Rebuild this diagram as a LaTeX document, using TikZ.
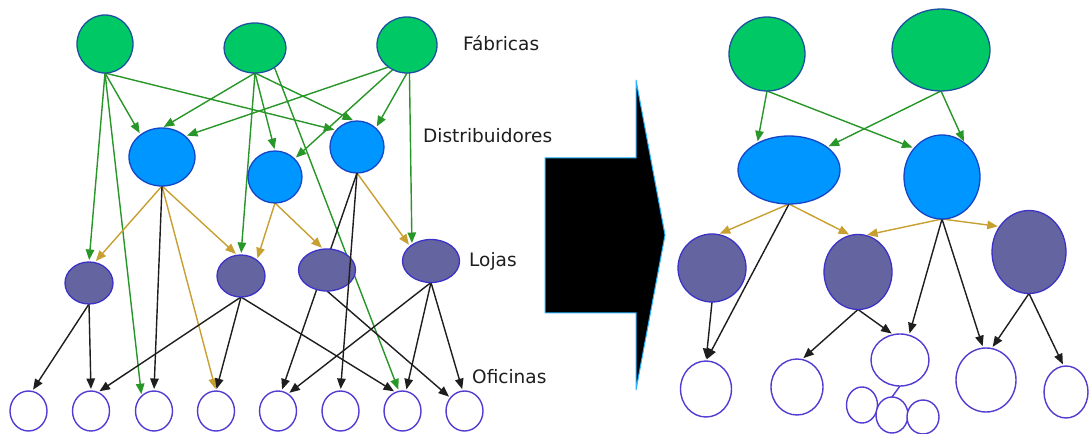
\documentclass[tikz,border=0pt]{standalone}
\usepackage{fontspec}
\setmainfont{DejaVu Sans}
\usetikzlibrary{shapes.geometric,arrows.meta}
\pgfdeclarelayer{background}
\pgfsetlayers{background,main}

\definecolor{facFill}{RGB}{0,200,100}
\definecolor{facEdge}{RGB}{30,80,160}
\definecolor{disFill}{RGB}{0,150,255}
\definecolor{disEdge}{RGB}{20,70,200}
\definecolor{lojFill}{RGB}{100,100,160}
\definecolor{lojEdge}{RGB}{60,50,200}
\definecolor{ofiEdge}{RGB}{80,60,210}
\definecolor{gLine}{RGB}{40,150,40}
\definecolor{yLine}{RGB}{200,160,50}
\definecolor{kLine}{RGB}{30,30,30}
\definecolor{arrBlue}{RGB}{40,180,255}
\definecolor{txt}{RGB}{30,30,30}

\tikzset{
  fab/.style={ellipse, draw=facEdge, fill=facFill, line width=1.3bp, inner sep=0pt, outer sep=0pt},
  dis/.style={ellipse, draw=disEdge, fill=disFill, line width=1.3bp, inner sep=0pt, outer sep=0pt},
  loj/.style={ellipse, draw=lojEdge, fill=lojFill, line width=1.3bp, inner sep=0pt, outer sep=0pt},
  ofi/.style={ellipse, draw=ofiEdge, fill=white, line width=1.4bp, inner sep=0pt, outer sep=0pt},
  conn/.style={line width=1.4bp, shorten >=2bp, -{Triangle[length=10.5bp,width=8.5bp]}},
  ge/.style={conn, draw=gLine, fill=gLine},
  ye/.style={conn, draw=yLine, fill=yLine},
  be/.style={conn, draw=kLine, fill=kLine},
  lbl/.style={anchor=base west, inner sep=0pt, text=txt, font=\fontsize{18.5bp}{20bp}\selectfont},
}

\begin{document}
\begin{tikzpicture}[x=1bp, y=-1bp]
\useasboundingbox (0,0) rectangle (1089,434);
\begin{pgfonlayer}{background}
  \fill[white] (0,0) rectangle (1089,434);
\end{pgfonlayer}

% ---------- current network ----------
\node[fab, minimum width=56bp, minimum height=58bp] (F1) at (105,44) {};
\node[fab, minimum width=62bp, minimum height=50bp] (F2) at (255,48) {};
\node[fab, minimum width=60bp, minimum height=56bp] (F3) at (407,45) {};

\node[dis, minimum width=66bp, minimum height=58bp] (D1) at (162,157) {};
\node[dis, minimum width=54bp, minimum height=52bp] (D2) at (275,177) {};
\node[dis, minimum width=54bp, minimum height=52bp] (D3) at (357,147) {};

\node[loj, minimum width=48bp, minimum height=42bp] (L1) at (89,283) {};
\node[loj, minimum width=48bp, minimum height=42bp] (L2) at (241,276) {};
\node[loj, minimum width=57bp, minimum height=42bp] (L3) at (327,270) {};
\node[loj, minimum width=57bp, minimum height=43bp] (L4) at (431,261) {};

\foreach \i/\x in {1/28.5,2/91,3/154,4/216,5/278,6/340.5,7/402.5,8/464.5}
  \node[ofi, minimum width=37bp, minimum height=40bp] (O\i) at (\x,411) {};

\node[lbl] (tF) at (463,51) {Fábricas};
\node[lbl] (tD) at (423,143) {Distribuidores};
\node[lbl] (tL) at (469,267) {Lojas};
\node[lbl] (tO) at (472,384) {Oficinas};

\begin{pgfonlayer}{background}
  % factories
  \draw[ge] (F1.south) -- (D1.134);
  \draw[ge] (F1.south) -- (D3.141);
  \draw[ge] (F1.south) -- (L1.north);
  \draw[ge] (F1.south) -- (O3.130);
  \draw[ge] (F2.south) -- (D1.north);
  \draw[ge] (F2.south) -- (D2.north);
  \draw[ge] (F2.south) -- (D3.95);
  \draw[ge] (F2.south) -- (L2.north);
  \draw[ge] (F2.-45) -- (O7.100);
  \draw[ge] (F3.-130) -- (D1.42);
  \draw[ge] (F3.-120) -- (D2.43);
  \draw[ge] (F3.south) -- (D3.45);
  \draw[ge] (F3.-85) -- (L4.140);
  % distributors
  \draw[ye] (D1.south) -- (L1.75);
  \draw[ye] (D1.south) -- (O4.north);
  \draw[ye] (D1.south) -- (L2.100);
  \draw[be] (D1.south) -- (O3.north);
  \draw[ye] (D2.south) -- (L2.45);
  \draw[ye] (D2.south) -- (L3.100);
  \draw[ye] (D3.south) -- (L4.145);
  \draw[be] (D3.south) -- (O5.80);
  % shops
  \draw[be] (L1.south) -- (O1.80);
  \draw[be] (L1.south) -- (O2.north);
  \draw[be] (L2.south) -- (O2.70);
  \draw[be] (L2.south) -- (O4.north);
  \draw[be] (L2.south) -- (O7.110);
  \draw[be] (L3.south) -- (O8.137);
  \draw[be] (L4.south) -- (O5.60);
  \draw[be] (L4.south) -- (O7.80);
  \draw[be] (L4.south) -- (O8.95);
\end{pgfonlayer}
\draw[be] (D3.south) -- (O6.north);

% ---------- transition arrow ----------
\path[fill=black, draw=arrBlue, line width=1bp, line join=miter]
  (545,158) -- (636,158) -- (636,80) -- (665,235) -- (636,390)
  -- (636,313) -- (545,313) -- cycle;

% ---------- consolidated network ----------
\node[fab, minimum width=76bp, minimum height=74bp] (RF1) at (767,54) {};
\node[fab, minimum width=98bp, minimum height=82bp] (RF2) at (941,50) {};

\node[dis, minimum width=102bp, minimum height=68bp] (RD1) at (789,170) {};
\node[dis, minimum width=76bp, minimum height=84bp] (RD2) at (942,177) {};

\node[loj, minimum width=68bp, minimum height=68bp] (RL1) at (712,268) {};
\node[loj, minimum width=68bp, minimum height=75bp] (RL2) at (858,272) {};
\node[loj, minimum width=74bp, minimum height=83bp] (RL3) at (1029,252) {};

\node[ofi, minimum width=51bp, minimum height=56bp] (RO1) at (706,389) {};
\node[ofi, minimum width=52bp, minimum height=56bp] (RO2) at (797,387) {};
\node[ofi, minimum width=58bp, minimum height=52bp] (RO3) at (900,360) {};
\node[ofi, minimum width=31bp, minimum height=36bp] (S1) at (862,405) {};
\node[ofi, minimum width=32bp, minimum height=36bp] (S2) at (892,415) {};
\node[ofi, minimum width=32bp, minimum height=34bp] (S3) at (923,417) {};
\node[ofi, minimum width=60bp, minimum height=64bp] (RO4) at (986,380) {};
\node[ofi, minimum width=44bp, minimum height=52bp] (RO5) at (1066,392) {};

\begin{pgfonlayer}{background}
  \draw[ge] (RF1.south) -- (RD1.140);
  \draw[ge] (RF1.south) -- (RD2.134);
  \draw[ge] (RF2.south) -- (RD1.31);
  \draw[ge] (RF2.south) -- (RD2.56);
  \draw[ye] (RD1.south) -- (RL1.80);
  \draw[ye] (RD1.south) -- (RL2.101);
  \draw[ye] (RD2.south) -- (RL2.79);
  \draw[ye] (RD2.south) -- (RL3.139);
  \draw[be] (RD1.south) -- (RO1.north);
  \draw[be] (RD2.south) -- (RO3.70);
  \draw[be] (RD2.south) -- (RO4.95);
  \draw[be] (RL1.south) -- (RO1.north);
  \draw[be] (RL2.south) -- (RO2.80);
  \draw[be] (RL2.south) -- (RO3.105);
  \draw[be] (RL3.south) -- (RO4.80);
  \draw[be] (RL3.south) -- (RO5.95);
  \draw[draw=ofiEdge, line width=1.4bp] (RO3.south) -- (S2.north);
\end{pgfonlayer}
\end{tikzpicture}
\end{document}
